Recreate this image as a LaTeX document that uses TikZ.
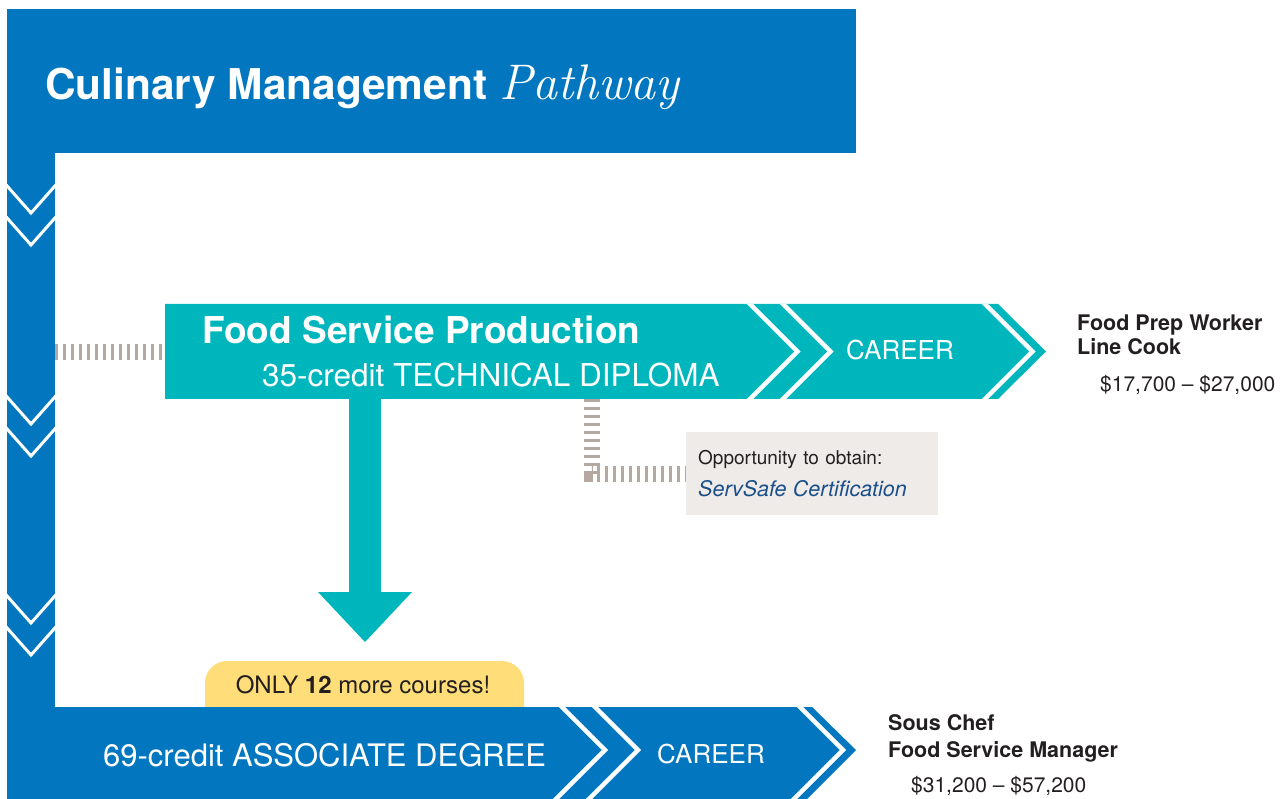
\documentclass[tikz,border=0pt]{standalone}
\usepackage{fontspec}
\setsansfont{TeX Gyre Heros}
\renewcommand{\familydefault}{\sfdefault}
\usetikzlibrary{positioning,arrows.meta}

\definecolor{pathblue}{RGB}{2,119,192}
\definecolor{pathteal}{RGB}{0,182,189}
\definecolor{dotgray}{RGB}{181,168,160}
\definecolor{notegray}{RGB}{239,235,232}
\definecolor{onlyyellow}{RGB}{255,222,122}
\definecolor{darktext}{RGB}{35,31,32}
\definecolor{certblue}{RGB}{27,79,138}

\newcommand{\fsize}[2]{\fontsize{#1}{#2}\selectfont}

\begin{document}
\begin{tikzpicture}[x=1pt,y=-1pt]
	% Stiler for tekst og linjer
	\tikzstyle{bandtext}	= [text=white, inner sep=0pt, anchor=base west]
	\tikzstyle{jobtext}		= [text=darktext, inner sep=0pt, anchor=base west, font=\bfseries\fsize{21.5}{26}]
	\tikzstyle{paytext}		= [text=darktext, inner sep=0pt, anchor=base west, font=\fsize{21}{25}]
	\tikzstyle{chevron}		= [draw=white, line width=4.5pt]
	\tikzstyle{dotline}		= [draw=dotgray, line width=16pt, dash pattern=on 3pt off 5pt]
	\tikzstyle{notebox}		= [fill=notegray, anchor=north west, text=darktext, align=left, text width=228pt, inner xsep=12pt, inner ysep=0pt, minimum height=83pt, font=\fsize{19}{32}]

	\useasboundingbox (0,0) rectangle (1280,799);

	% Tittelfelt og stolpen til venstre
	\fill[pathblue] (7,9) rectangle (856,153);
	\fill[pathblue] (7,153) rectangle (55,707);
	\begin{scope}
		\clip (7,153) rectangle (55,707);
		\foreach \y in {186,218,397,429,596,628}
			\draw[draw=white, line width=3pt] (0,\y-8) -- (31,\y+27) -- (62,\y-8);
	\end{scope}

	% Gul lapp (bunnen ligger under det blaa baandet)
	\fill[onlyyellow, rounded corners=22pt] (205,740) -- (205,661) -- (524,661) -- (524,740) -- cycle;

	% Blaatt baand nederst
	\fill[pathblue] (7,707) -- (812,707) -- (856,750) -- (807,799) -- (7,799) -- cycle;
	\begin{scope}
		\clip (7,707) -- (812,707) -- (856,750) -- (807,799) -- (7,799) -- cycle;
		\foreach \x in {562,595,800}
			\draw[chevron] (\x-10,697) -- (\x+43,750) -- (\x-10,803);
	\end{scope}

	% Turkist baand
	\fill[pathteal] (165,304) -- (998,304) -- (1046,351.5) -- (998,399) -- (165,399) -- cycle;
	\begin{scope}
		\clip (165,304) -- (998,304) -- (1046,351.5) -- (998,399) -- (165,399) -- cycle;
		\foreach \x in {750,783,985}
			\draw[chevron] (\x-10,294) -- (\x+47.5,351.5) -- (\x-10,409);
	\end{scope}

	% Punkter paa baand og stolpe
	\coordinate (stolpe)		at (55,352);
	\coordinate (diplomvenstre)	at (165,352);
	\coordinate (diplombunn)	at (592,399);
	\coordinate (pilstart)		at (365,399);
	\coordinate (piltupp)		at (365,642);

	% Tekst i baandene
	\node[bandtext, font=\bfseries\fsize{42.4}{50}] (tittel) at (45,100) {Culinary Management {\rmfamily\mdseries\itshape\fsize{50}{50}Pathway}};
	\node[bandtext, font=\bfseries\fsize{37}{40}] (produksjon)	at (202,344) {Food Service Production};
	\node[bandtext, font=\fsize{31.5}{34}]	(diplom)		at (262,387) {35-credit TECHNICAL DIPLOMA};
	\node[bandtext, font=\fsize{26}{30}]	(karriere1)		at (846,360) {CAREER};
	\node[bandtext, font=\fsize{31}{34}]	(grad)			at (103,766) {69-credit ASSOCIATE DEGREE};
	\node[bandtext, font=\fsize{26}{30}]	(karriere2)		at (657,763) {CAREER};

	% Merknad og gul lapp
	\node[notebox] (servsafe) at (686,432) {Opportunity to obtain:\\{\color{certblue}\itshape\fsize{21.5}{32}ServSafe Certification}};
	\node[anchor=base, inner sep=0pt, text=darktext, font=\fsize{24}{28}] (bare12) at (363,693) {ONLY \textbf{12} more courses!};

	% Stillinger og loenn
	\node[jobtext] (jobb1)	at (1077,331) {Food Prep Worker};
	\node[jobtext] (jobb2)	at (1077,355) {Line Cook};
	\node[paytext] (lonn1)	at (1100,392) {\$17,700 – \$27,000};
	\node[jobtext] (jobb3)	at (888,730) {Sous Chef};
	\node[jobtext] (jobb4)	at (888,757) {Food Service Manager};
	\node[paytext] (lonn2)	at (911,792) {\$31,200 – \$57,200};

	% Stiplede forbindelser og pil
	\draw[dotline] (stolpe) -- (diplomvenstre);
	\draw[dotline] (diplombunn) |- (servsafe.west);
	\draw[draw=pathteal, line width=32pt, -{Triangle[width=94pt, length=50pt, line width=0pt]}] (pilstart) -- (piltupp);
\end{tikzpicture}
\end{document}
